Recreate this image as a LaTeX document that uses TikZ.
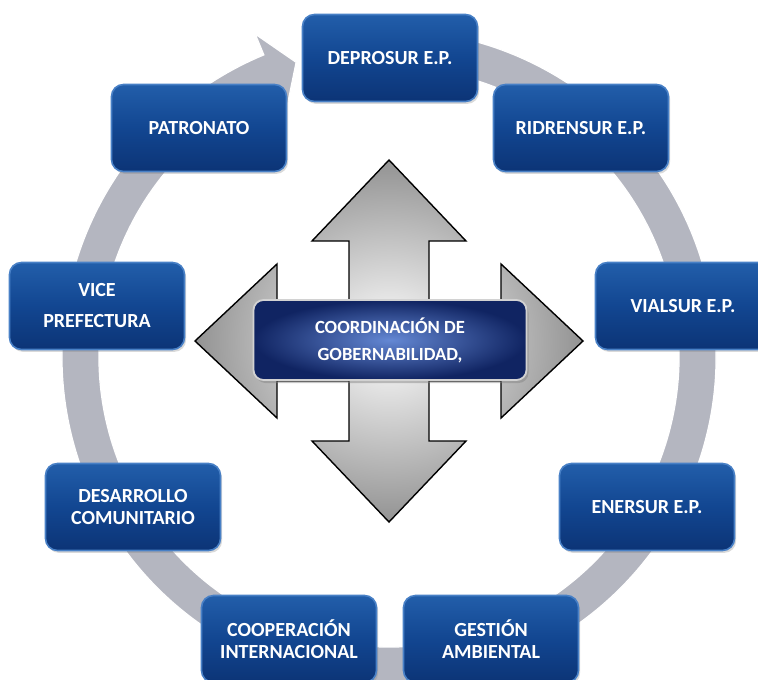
\documentclass[tikz,border=0pt]{standalone}
\usepackage{fontspec}
\setmainfont{Carlito}
\usetikzlibrary{shadows}
\definecolor{unittop}{RGB}{34,94,170}
\definecolor{unitmid}{RGB}{18,70,145}
\definecolor{unitlow}{RGB}{12,52,118}
\definecolor{unitedge}{RGB}{72,128,198}
\definecolor{ringgrey}{RGB}{180,182,192}
\definecolor{hubinner}{RGB}{100,136,212}
\definecolor{hubouter}{RGB}{16,36,98}

\begin{document}
\begin{tikzpicture}[x=0.5pt, y=-0.5pt,
    unit/.style={draw=unitedge, line width=0.8pt, rounded corners=6pt,
                 top color=unittop, bottom color=unitlow, middle color=unitmid,
                 minimum width=87.5pt, minimum height=43.5pt, align=center,
                 text=white, font=\fontsize{10}{11}\selectfont\bfseries,
                 drop shadow={opacity=0.3, shadow xshift=0.8pt, shadow yshift=-1.2pt}},
    hub/.style={draw=gray!35, line width=0.9pt, rounded corners=5pt,
                inner color=hubinner, outer color=hubouter,
                minimum width=136.5pt, minimum height=40pt, align=center,
                text=white, font=\fontsize{9.3}{13.5}\selectfont\bfseries,
                drop shadow={opacity=0.45, shadow xshift=1pt, shadow yshift=-1.5pt}},
    ring/.style={fill=ringgrey, draw=white, line width=0.6pt},
    cross/.style={draw=black, line width=0.7pt, inner color=white, outer color=gray!85}
  ]
    \useasboundingbox (0,0) rectangle (758,679);

    %% Circular arrow behind the units
    \begin{scope}[shift={(389,357)}, yscale=-1]
      \path[ring] (100:327) arc[start angle=100, end angle=-247.5, radius=327]
        -- (-247.5:349.5) -- (-252.5:309) -- (-247.5:268)
        -- (-247.5:290) arc[start angle=-247.5, end angle=100, radius=290] -- cycle;
    \end{scope}

    %% Units around the ring
    \node[unit] (deprosur)    at (390,58)  {DEPROSUR E.P.};
    \node[unit] (ridrensur)   at (581,128) {RIDRENSUR E.P.};
    \node[unit] (vialsur)     at (683,306) {VIALSUR E.P.};
    \node[unit] (enersur)     at (647,507) {ENERSUR E.P.};
    \node[unit] (gestion)     at (491,639) {GESTIÓN\\AMBIENTAL};
    \node[unit] (cooperacion) at (289,639) {COOPERACIÓN\\INTERNACIONAL};
    \node[unit] (desarrollo)  at (133,507) {DESARROLLO\\COMUNITARIO};
    \node[unit] (vice)        at (97,306)  {VICE\\[4.5pt]PREFECTURA};
    \node[unit] (patronato)   at (199,128) {PATRONATO};

    %% Four-way arrow in the middle
    \begin{scope}[shift={(389,341)}]
      \path[cross] (-40,-100) -- (-77,-100) -- (0,-181) -- (77,-100) -- (40,-100)
        -- (40,-40) -- (112,-40) -- (112,-77) -- (194,0) -- (112,77) -- (112,40)
        -- (40,40) -- (40,100) -- (77,100) -- (0,181) -- (-77,100) -- (-40,100)
        -- (-40,40) -- (-112,40) -- (-112,77) -- (-194,0) -- (-112,-77) -- (-112,-40)
        -- (-40,-40) -- cycle;
    \end{scope}

    %% Central unit
    \node[hub] (core) at (390,340) {COORDINACIÓN DE\\GOBERNABILIDAD,};
  \end{tikzpicture}
\end{document}
